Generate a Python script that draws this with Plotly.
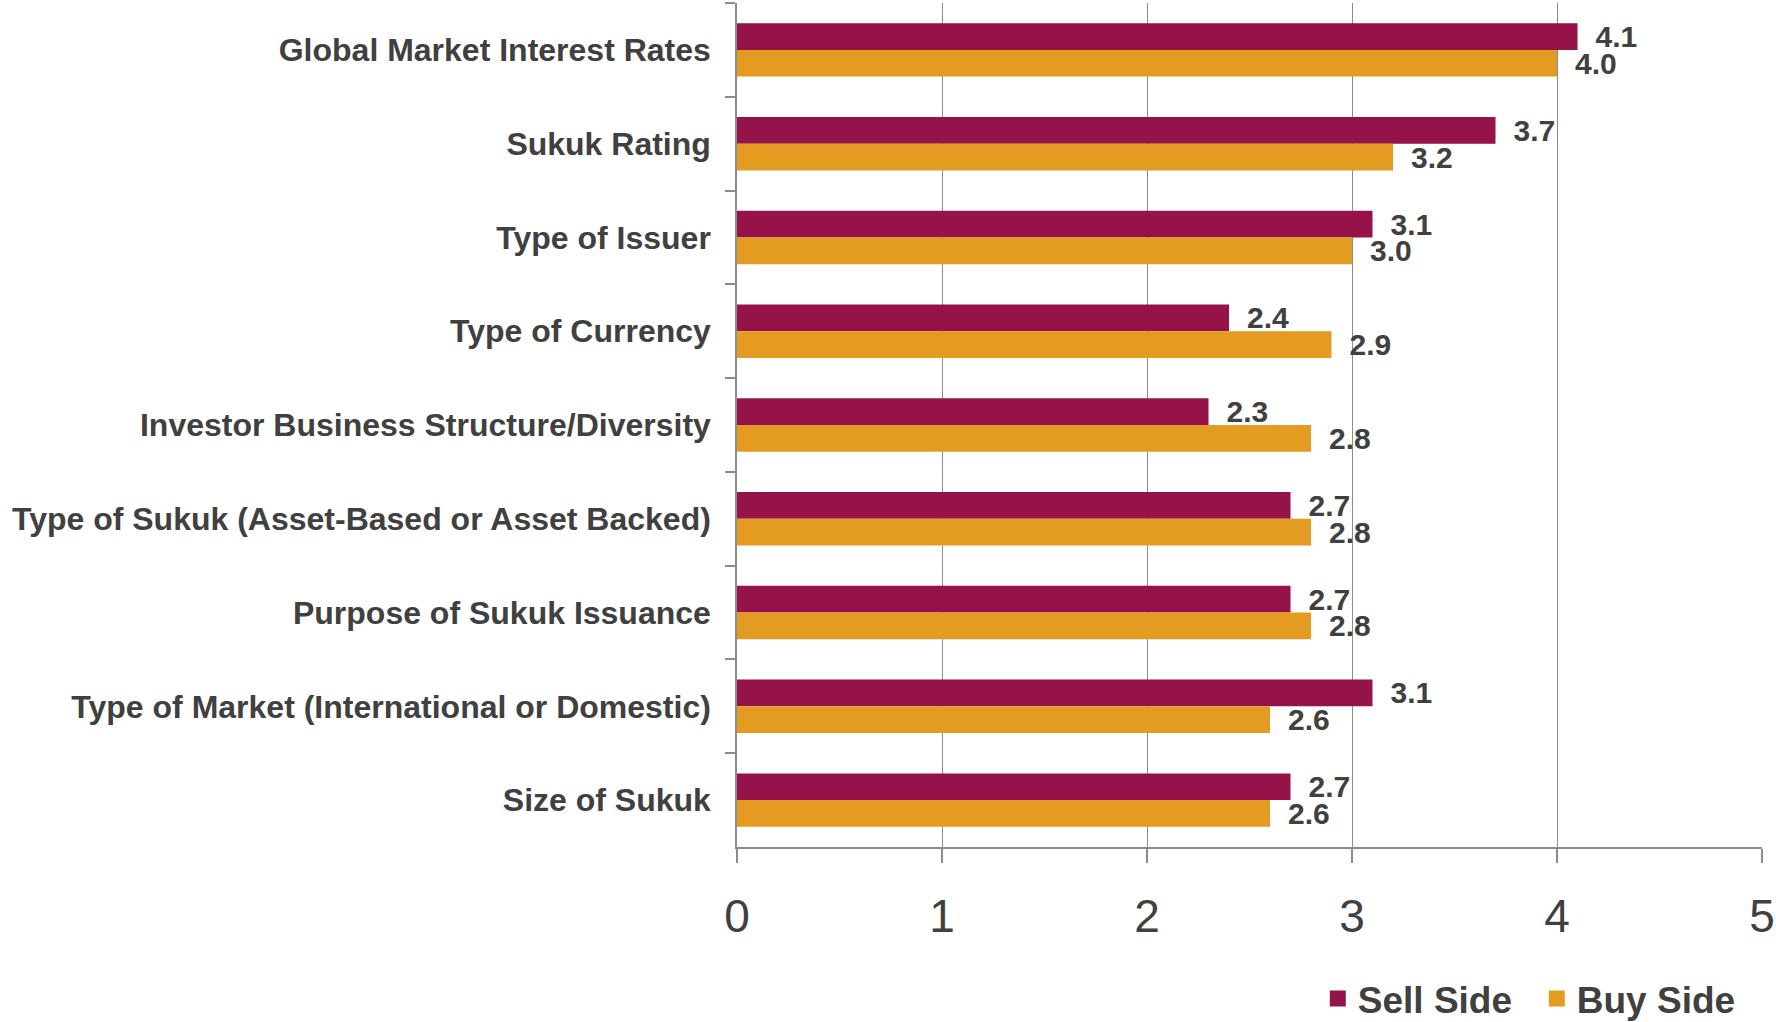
import plotly.graph_objects as go

categories = [
    "Global Market Interest Rates",
    "Sukuk Rating",
    "Type of Issuer",
    "Type of Currency",
    "Investor Business Structure/Diversity",
    "Type of Sukuk (Asset-Based or Asset Backed)",
    "Purpose of Sukuk Issuance",
    "Type of Market (International or Domestic)",
    "Size of Sukuk",
]
sell_side = [4.1, 3.7, 3.1, 2.4, 2.3, 2.7, 2.7, 3.1, 2.7]
buy_side = [4.0, 3.2, 3.0, 2.9, 2.8, 2.8, 2.8, 2.6, 2.6]
x_ticks = [0, 1, 2, 3, 4, 5]

SELL_COLOR = "#951349"
BUY_COLOR = "#E39B21"
TEXT_COLOR = "#404040"
FONT = "Liberation Sans, Arial, sans-serif"

fig = go.Figure()
for name, vals, col in [("Sell Side", sell_side, SELL_COLOR), ("Buy Side", buy_side, BUY_COLOR)]:
    fig.add_trace(go.Bar(
        y=categories, x=vals, orientation="h", name=name,
        marker=dict(color=col, line=dict(width=0)),
        text=[f"{v:.1f}" for v in vals],
        texttemplate="\u2002%{text}",
        textposition="outside",
        constraintext="none",
        textfont=dict(family=FONT, size=30, color=TEXT_COLOR, weight="bold"),
        cliponaxis=False,
        showlegend=False,
    ))
    fig.add_trace(go.Scatter(
        x=[None], y=[None], mode="markers", name=name,
        marker=dict(symbol="square", size=19, color=col),
        showlegend=True,
    ))

fig.update_layout(
    width=1776, height=1022,
    paper_bgcolor="white", plot_bgcolor="white",
    margin=dict(l=737, r=14, t=3, b=175, autoexpand=False),
    barmode="group", bargap=0.43, bargroupgap=0,
    font=dict(family=FONT, color=TEXT_COLOR),
    legend=dict(
        orientation="h", xref="container",
        x=0.742, xanchor="left", y=-0.18, yanchor="middle",
        entrywidth=174, entrywidthmode="pixels",
        font=dict(family=FONT, size=37, color=TEXT_COLOR, weight="bold"),
        itemsizing="trace", traceorder="normal",
        bgcolor="rgba(0,0,0,0)",
    ),
    xaxis=dict(
        range=[0, 5], tickvals=x_ticks, ticktext=[str(t) for t in x_ticks],
        showgrid=True, gridcolor="#8c8c8c", gridwidth=1,
        showline=True, linecolor="#8c8c8c", linewidth=1.5,
        ticks="outside", ticklen=14, tickcolor="#8c8c8c", tickwidth=1.5,
        tickfont=dict(family=FONT, size=46, color=TEXT_COLOR),
        ticklabelstandoff=14,
        zeroline=False, fixedrange=True, automargin=False,
    ),
    yaxis=dict(
        categoryorder="array", categoryarray=categories, autorange="reversed",
        showline=True, linecolor="#8c8c8c", linewidth=1.5,
        ticks="outside", ticklen=10, tickcolor="#8c8c8c", tickwidth=1.5,
        tickson="boundaries",
        tickfont=dict(family=FONT, size=32, color=TEXT_COLOR, weight="bold"),
        ticklabelstandoff=18,
        showgrid=False, fixedrange=True, automargin=False,
    ),
)

fig.write_html(
    "out.html",
    config={"displayModeBar": False},
    post_script="document.body.style.margin='0';document.body.style.overflow='hidden';",
)
